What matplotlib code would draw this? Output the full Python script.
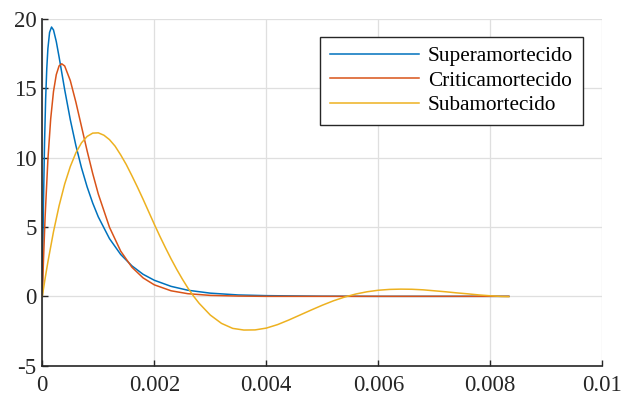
import matplotlib
matplotlib.use("Agg")
import matplotlib.pyplot as plt

plt.rcParams['font.family'] = ['Liberation Serif', 'DejaVu Serif']
plt.rcParams['axes.unicode_minus'] = False

# ---- data (time in seconds) ----
t_super = [0, 0.00001, 0.00002, 0.00004, 0.00006, 0.00008, 0.00010, 0.00013, 0.000165,
           0.0002, 0.00025, 0.0003, 0.0004, 0.0005, 0.0006, 0.0007, 0.0008, 0.0009,
           0.0010, 0.0012, 0.0014, 0.0016, 0.0018, 0.0020, 0.0023, 0.0026, 0.0030,
           0.0035, 0.0040, 0.0050, 0.0060, 0.0070, 0.00833]
v_super = [0, 3.50, 6.47, 11.05, 14.25, 16.43, 17.86, 19.03, 19.42,
           19.21, 18.37, 17.26, 14.90, 12.74, 10.87, 9.27, 7.90, 6.73,
           5.73, 4.16, 3.02, 2.20, 1.59, 1.16, 0.72, 0.44, 0.23,
           0.10, 0.05, 0.01, 0.0, 0.0, 0.0]

t_crit = [0, 0.00002, 0.00005, 0.00010, 0.00015, 0.00020, 0.00025, 0.00030, 0.000347,
          0.00040, 0.00050, 0.00060, 0.00070, 0.00080, 0.00090, 0.00100, 0.00120,
          0.00140, 0.00160, 0.00180, 0.00200, 0.00230, 0.00260, 0.00300, 0.00350,
          0.00400, 0.00500, 0.00600, 0.00700, 0.00833]
v_crit = [0, 2.48, 5.69, 9.85, 12.80, 14.77, 15.99, 16.62, 16.77,
          16.61, 15.56, 14.00, 12.25, 10.50, 8.86, 7.38, 4.98,
          3.26, 2.10, 1.33, 0.83, 0.40, 0.19, 0.07, 0.02,
          0.0, 0.0, 0.0, 0.0, 0.0]

t_sub = [0, 0.00005, 0.0001, 0.0002, 0.0003, 0.0004, 0.0005, 0.0006, 0.0007, 0.0008,
         0.0009, 0.0010, 0.0011, 0.0012, 0.0013, 0.0014, 0.0015, 0.0016, 0.0017, 0.0018,
         0.0019, 0.0020, 0.0021, 0.0022, 0.0023, 0.0024, 0.0025, 0.0026, 0.0027,
         0.0028, 0.0030, 0.0032, 0.0034, 0.0036,
         0.0038, 0.0040, 0.0042, 0.0044, 0.0046, 0.0048, 0.0050, 0.0052, 0.0054,
         0.0056, 0.0058, 0.0060, 0.0062, 0.0064, 0.0066, 0.0068, 0.0070, 0.0072,
         0.0074, 0.0076, 0.0078, 0.0080, 0.0082, 0.00833]
v_sub = [0, 1.28, 2.48, 4.66, 6.53, 8.10, 9.36, 10.35, 11.07, 11.53,
         11.77, 11.79, 11.62, 11.30, 10.83, 10.20, 9.50, 8.70, 7.87, 7.00,
         6.10, 5.20, 4.33, 3.50, 2.70, 1.95, 1.25, 0.60, 0.02,
         -0.50, -1.35, -1.95, -2.31, -2.43,
         -2.42, -2.29, -2.04, -1.71, -1.35, -0.99, -0.64, -0.32, -0.05,
         0.17, 0.33, 0.44, 0.50, 0.52, 0.51, 0.47, 0.40, 0.33,
         0.25, 0.18, 0.10, 0.04, -0.01, -0.02]

labels = ['Superamortecido', 'Criticamortecido', 'Subamortecido']
colors = ['#0072BD', '#D95319', '#EDB120']

x_ticks = [0, 0.002, 0.004, 0.006, 0.008, 0.01]
x_ticklabels = ['0', '0.002', '0.004', '0.006', '0.008', '0.01']
y_ticks = [-5, 0, 5, 10, 15, 20]
y_ticklabels = ['-5', '0', '5', '10', '15', '20']

fig = plt.figure(figsize=(6.21, 3.99), dpi=100)
ax = fig.add_axes([0.0681, 0.0835, 0.9018, 0.8689])

ax.plot(t_super, v_super, color=colors[0], lw=1.1, label=labels[0])
ax.plot(t_crit, v_crit, color=colors[1], lw=1.1, label=labels[1])
ax.plot(t_sub, v_sub, color=colors[2], lw=1.1, label=labels[2])

ax.set_xlim(0, 0.01)
ax.set_ylim(-5, 20)
ax.set_xticks(x_ticks)
ax.set_xticklabels(x_ticklabels)
ax.set_yticks(y_ticks)
ax.set_yticklabels(y_ticklabels)

ax.grid(True, color='#dfdfdf', lw=0.9)
ax.set_axisbelow(True)
for s in ['top', 'right']:
    ax.spines[s].set_visible(False)
for s in ['left', 'bottom']:
    ax.spines[s].set_color('#262626')
    ax.spines[s].set_linewidth(1.2)
ax.tick_params(direction='in', length=4, width=1.0, colors='#262626',
               labelsize=16.5, pad=4)
ax.tick_params(axis='x', pad=7)

leg = ax.legend(loc='upper right', bbox_to_anchor=(0.965, 0.949), borderaxespad=0,
                fontsize=15.3, handlelength=4.2, handletextpad=0.42, labelspacing=0.22,
                fancybox=False, framealpha=1, edgecolor='#262626', borderpad=0.45)
leg.get_frame().set_linewidth(1.0)
for text in leg.get_texts():
    text.set_color('#000000')

fig.savefig('out.png', dpi=100)
